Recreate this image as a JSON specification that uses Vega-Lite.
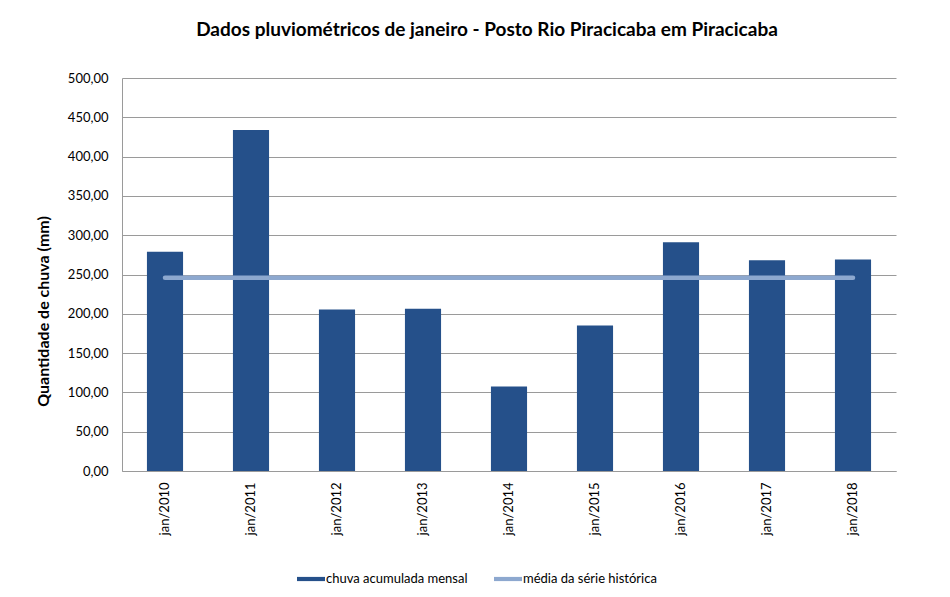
{
  "$schema": "https://vega.github.io/schema/vega-lite/v6.json",
  "width": 774,
  "height": 393,
  "autosize": {"type": "none"},
  "padding": {"left": 122, "top": 78, "right": 54, "bottom": 126},
  "background": "white",
  "config": {
    "font": "Lato",
    "view": {"stroke": null},
    "axis": {"labelFont": "Lato", "titleFont": "Lato", "labelColor": "#000000", "titleColor": "#000000"}
  },
  "title": {
    "text": "Dados pluviométricos de janeiro - Posto Rio Piracicaba em Piracicaba",
    "font": "Lato",
    "fontSize": 19,
    "fontWeight": "bold",
    "color": "#000000",
    "anchor": "middle",
    "dx": -22,
    "offset": 32
  },
  "data": {
    "values": [
      {"mes": "jan/2010", "chuva": 279, "media": 246},
      {"mes": "jan/2011", "chuva": 434, "media": 246},
      {"mes": "jan/2012", "chuva": 205.5, "media": 246},
      {"mes": "jan/2013", "chuva": 206.5, "media": 246},
      {"mes": "jan/2014", "chuva": 107.5, "media": 246},
      {"mes": "jan/2015", "chuva": 185, "media": 246},
      {"mes": "jan/2016", "chuva": 291, "media": 246},
      {"mes": "jan/2017", "chuva": 268, "media": 246},
      {"mes": "jan/2018", "chuva": 269, "media": 246}
    ]
  },
  "encoding": {
    "x": {
      "field": "mes",
      "type": "nominal",
      "sort": null,
      "scale": {"type": "band", "paddingInner": 0.58, "paddingOuter": 0.29},
      "axis": {
        "title": null,
        "labelAngle": -90,
        "labelAlign": "right",
        "labelBaseline": "middle",
        "labelFontSize": 13,
        "labelPadding": 11,
        "ticks": false,
        "domainColor": "#9a9a9a",
        "grid": false
      }
    }
  },
  "layer": [
    {
      "mark": {"type": "bar", "stroke": null},
      "encoding": {
        "y": {
          "field": "chuva",
          "type": "quantitative",
          "scale": {"domain": [0, 500], "nice": false},
          "axis": {
            "title": "Quantidade de chuva (mm)",
            "titleFontSize": 16,
            "titleFontWeight": "bold",
            "titlePadding": 16,
            "titleY": 233,
            "values": [0, 50, 100, 150, 200, 250, 300, 350, 400, 450, 500],
            "labelOverlap": false,
            "labelExpr": "replace(format(datum.value, '.2f'), '.', ',')",
            "labelFontSize": 13,
            "labelPadding": 14,
            "ticks": false,
            "grid": true,
            "gridColor": "#9a9a9a",
            "gridWidth": 1,
            "domainColor": "#9a9a9a"
          }
        },
        "color": {
          "datum": "chuva acumulada mensal",
          "type": "nominal",
          "scale": {
            "domain": ["chuva acumulada mensal", "média da série histórica"],
            "range": ["#25508A", "#8DA8CF"]
          },
          "legend": {
            "title": null,
            "orient": "none",
            "direction": "horizontal",
            "legendX": 175,
            "legendY": 487,
            "labelFontSize": 13,
            "labelFont": "Lato",
            "labelColor": "#000000",
            "labelOffset": 1,
            "columnPadding": 26,
            "symbolSize": 784,
            "symbolType": "M-1,-0.15H1V0.15H-1Z",
            "symbolStrokeWidth": 0,
            "symbolOpacity": 1
          }
        }
      }
    },
    {
      "mark": {"type": "line", "strokeWidth": 4.5, "strokeCap": "round"},
      "encoding": {
        "y": {
          "field": "media",
          "type": "quantitative",
          "scale": {"domain": [0, 500], "nice": false},
          "axis": {
            "title": "Quantidade de chuva (mm)",
            "titleFontSize": 16,
            "titleFontWeight": "bold",
            "titlePadding": 16,
            "titleY": 233,
            "values": [0, 50, 100, 150, 200, 250, 300, 350, 400, 450, 500],
            "labelOverlap": false,
            "labelExpr": "replace(format(datum.value, '.2f'), '.', ',')",
            "labelFontSize": 13,
            "labelPadding": 14,
            "ticks": false,
            "grid": true,
            "gridColor": "#9a9a9a",
            "gridWidth": 1,
            "domainColor": "#9a9a9a"
          }
        },
        "color": {"datum": "média da série histórica", "type": "nominal"}
      }
    }
  ]
}
